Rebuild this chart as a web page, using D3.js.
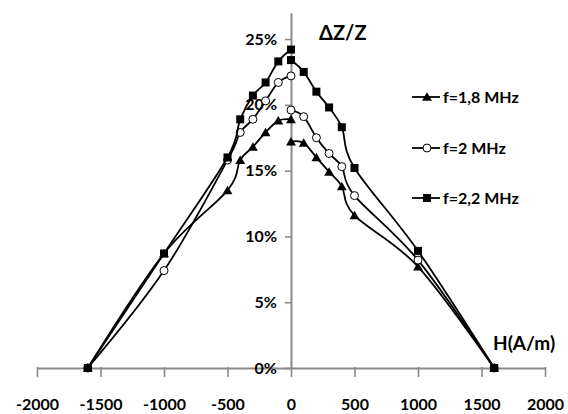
<!DOCTYPE html>
<html>
<head>
<meta charset="utf-8">
<script src="https://cdn.jsdelivr.net/npm/d3@7"></script>
<style>
  html, body { margin: 0; padding: 0; background: #fff; }
  svg { display: block; }
  text { font-family: Lato, "Open Sans", sans-serif; font-weight: bold; fill: #000; }
</style>
</head>
<body>
<svg id="chart" width="568" height="414"></svg>
<script>
// ---- data (H in A/m, ΔZ/Z as fraction) ----
const fieldDown = [-1600, -1000, -500, -400, -300, -200, -100, 0];
const fieldUp   = [0, 100, 200, 300, 400, 500, 1000, 1600];

const f18Down = [0, 0.087, 0.135, 0.158, 0.168, 0.179, 0.188, 0.189];
const f18Up   = [0.172, 0.171, 0.160, 0.149, 0.138, 0.116, 0.077, 0];

const f20Down = [0, 0.074, 0.158, 0.179, 0.189, 0.203, 0.217, 0.222];
const f20Up   = [0.196, 0.191, 0.175, 0.163, 0.153, 0.131, 0.082, 0];

const f22Down = [0, 0.087, 0.160, 0.189, 0.207, 0.217, 0.233, 0.242];
const f22Up   = [0.234, 0.225, 0.210, 0.198, 0.183, 0.152, 0.089, 0];

const seriesNames = ["f=1,8 MHz", "f=2 MHz", "f=2,2 MHz"];
const seriesMarkers = ["triangle", "circle", "square"];
const xTicks = [-2000, -1500, -1000, -500, 0, 500, 1000, 1500, 2000];
const yTicks = [0, 0.05, 0.10, 0.15, 0.20, 0.25];
const xTitle = "H(A/m)";
const yTitle = "ΔZ/Z";

const series = [
  { name: seriesNames[0], marker: seriesMarkers[0], branches: [[fieldDown, f18Down], [fieldUp, f18Up]] },
  { name: seriesNames[1], marker: seriesMarkers[1], branches: [[fieldDown, f20Down], [fieldUp, f20Up]] },
  { name: seriesNames[2], marker: seriesMarkers[2], branches: [[fieldDown, f22Down], [fieldUp, f22Up]] }
];

// ---- layout ----
const svg = d3.select("#chart");
const x = d3.scaleLinear().domain([-2000, 2000]).range([37, 545]);
const y = d3.scaleLinear().domain([0, 0.27]).range([368, 12.7]);
const axisColor = "#8a8a8a";

// x axis
const gx = svg.append("g").attr("transform", `translate(0,${y(0)})`)
  .call(d3.axisBottom(x).tickValues(xTicks).tickSizeInner(9).tickSizeOuter(0).tickPadding(22)
        .tickFormat(d3.format("d")));
gx.select(".domain").attr("stroke", axisColor).attr("stroke-width", 2);
gx.selectAll(".tick line").attr("stroke", axisColor).attr("stroke-width", 1.6).attr("y1", -1);
gx.selectAll(".tick text").attr("font-size", 16).attr("font-family", "Lato").attr("font-weight", "bold").attr("fill", "#000")
  .text(d => d < 0 ? "-" + Math.abs(d) : d);

// y axis
const gy = svg.append("g").attr("transform", `translate(${x(0)},0)`)
  .call(d3.axisLeft(y).tickValues(yTicks).tickSizeInner(6).tickSizeOuter(0).tickPadding(8)
        .tickFormat(d3.format(".0%")));
gy.select(".domain").attr("stroke", axisColor).attr("stroke-width", 2);
gy.selectAll(".tick line").attr("stroke", axisColor).attr("stroke-width", 1.6);
gy.selectAll(".tick text").attr("font-size", 16).attr("font-family", "Lato").attr("font-weight", "bold").attr("fill", "#000");

// axis titles
svg.append("text").attr("x", 319).attr("y", 40).attr("font-size", 20).text(yTitle);
svg.append("text").attr("x", 493).attr("y", 350).attr("font-size", 19).text(xTitle);

// ---- series ----
const line = d3.line().x(d => x(d[0])).y(d => y(d[1])).curve(d3.curveCatmullRom.alpha(0));

function drawMarker(g, type, cx, cy) {
  if (type === "square") {
    g.append("rect").attr("x", cx - 4).attr("y", cy - 4).attr("width", 8).attr("height", 8)
      .attr("fill", "#000");
  } else if (type === "circle") {
    g.append("circle").attr("cx", cx).attr("cy", cy).attr("r", 4)
      .attr("fill", "#fff").attr("stroke", "#000").attr("stroke-width", 1);
  } else {
    g.append("path").attr("d", d3.symbol().type(d3.symbolTriangle).size(42)())
      .attr("transform", `translate(${cx},${cy + 1})`).attr("fill", "#000");
  }
}

series.forEach(s => {
  const g = svg.append("g");
  s.branches.forEach(([xs, ys]) => {
    const pts = xs.map((v, i) => [v, ys[i]]);
    g.append("path").attr("d", line(pts)).attr("fill", "none")
      .attr("stroke", "#000").attr("stroke-width", 1.8);
  });
  s.branches.forEach(([xs, ys]) => {
    xs.forEach((v, i) => drawMarker(g, s.marker, x(v), y(ys[i])));
  });
});

// ---- legend ----
const legendY = [97, 148, 198];
series.forEach((s, i) => {
  const g = svg.append("g");
  g.append("line").attr("x1", 412).attr("x2", 440).attr("y1", legendY[i]).attr("y2", legendY[i])
    .attr("stroke", "#000").attr("stroke-width", 1.8);
  drawMarker(g, s.marker, 427, legendY[i]);
  g.append("text").attr("x", 443).attr("y", legendY[i] + 6).attr("font-size", 16).text(s.name);
});
</script>
</body>
</html>
